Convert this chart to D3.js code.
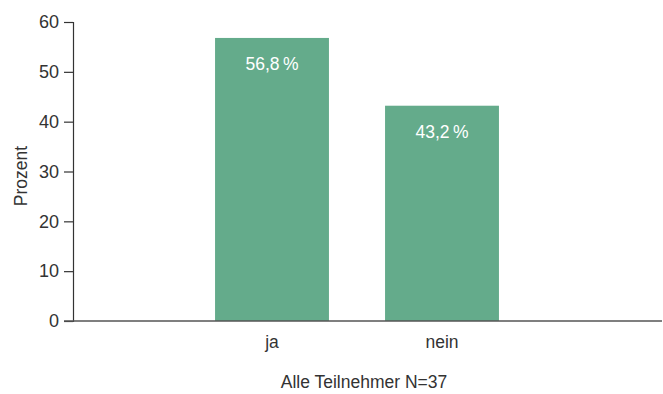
<!DOCTYPE html>
<html><head><meta charset="utf-8">
<script src="https://cdn.jsdelivr.net/npm/d3@7"></script>
<style>body{margin:0;background:#fff}svg{display:block}text{font-family:"Liberation Sans",Arial,sans-serif}</style>
</head><body><svg id="c" width="663" height="394"></svg>
<script>
const categories = ["ja", "nein"];
const values = [56.8, 43.2];
const valueLabels = ["56,8\u2009%", "43,2\u2009%"];
const yTicks = [0, 10, 20, 30, 40, 50, 60];
const yTitle = "Prozent";
const xTitle = "Alle Teilnehmer N=37";

const svg = d3.select("#c");
const axisX = 73, x0 = 64, x1 = 662;
const y = d3.scaleLinear().domain([0, 60]).range([321, 22]);
const x = d3.scaleBand().domain(categories).range([187, 527]).paddingInner(0.33).paddingOuter(0.165);

svg.selectAll("rect.bar").data(values).join("rect").attr("class","bar")
  .attr("x",(d,i)=>x(categories[i])).attr("width",x.bandwidth())
  .attr("y",d=>y(d)).attr("height",d=>y(0)-y(d)).attr("fill","#64ab8b");

svg.selectAll("text.vl").data(values).join("text").attr("class","vl")
  .attr("x",(d,i)=>x(categories[i])+x.bandwidth()/2).attr("y",d=>y(d)+32)
  .attr("text-anchor","middle").attr("fill","#fff").attr("font-size",17.5)
  .text((d,i)=>valueLabels[i]);

const ya = svg.append("g").attr("transform",`translate(${axisX},0)`)
  .call(d3.axisLeft(y).tickValues(yTicks).tickSize(9).tickPadding(5));
ya.select(".domain").attr("stroke","#333").attr("stroke-width",1.2);
ya.selectAll(".tick line").attr("stroke","#333").attr("stroke-width",1.2);
ya.selectAll(".tick text").attr("font-size",18).attr("fill","#333").attr("font-family","Liberation Sans, Arial, sans-serif");

svg.append("line").attr("x1",x0).attr("x2",x1).attr("y1",y(0)).attr("y2",y(0))
  .attr("stroke","#555").attr("stroke-width",1.6);

svg.selectAll("text.cat").data(categories).join("text").attr("class","cat")
  .attr("x",d=>x(d)+x.bandwidth()/2).attr("y",348).attr("text-anchor","middle")
  .attr("font-size",17.5).attr("fill","#333").text(d=>d);

svg.append("text").attr("x",364).attr("y",388).attr("text-anchor","middle")
  .attr("font-size",17.5).attr("fill","#333").text(xTitle);

svg.append("text").attr("transform","translate(27,176) rotate(-90)").attr("text-anchor","middle")
  .attr("font-size",17.5).attr("fill","#333").text(yTitle);
</script></body></html>
